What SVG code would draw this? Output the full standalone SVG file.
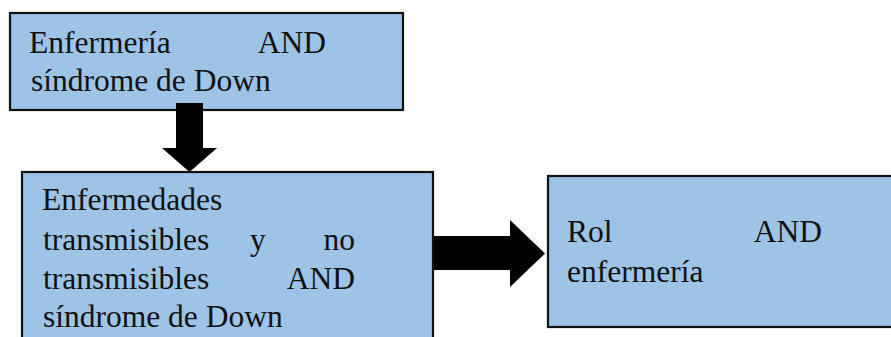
<svg xmlns="http://www.w3.org/2000/svg" width="891" height="337" viewBox="0 0 891 337">
<style>
.box{fill:#9DC3E6;stroke:#111;stroke-width:2.2}
.t{font-family:"Liberation Serif","Times New Roman",serif;font-size:31.5px;fill:#111}
.e{text-anchor:end}
.arr{fill:#000}
</style>
<rect width="891" height="337" fill="#fff"/>
<g id="node1">
<rect class="box" x="10" y="13" width="393" height="97"/>
<text class="t" x="29" y="53">Enfermería</text>
<text class="t e" x="326" y="53">AND</text>
<text class="t" x="31" y="91">síndrome de Down</text>
</g>
<g id="node2">
<rect class="box" x="22" y="172" width="411" height="180"/>
<text class="t" x="42" y="210">Enfermedades</text>
<text class="t" x="43" y="250">transmisibles</text>
<text class="t" x="250" y="250">y</text>
<text class="t e" x="355" y="250">no</text>
<text class="t" x="43" y="289">transmisibles</text>
<text class="t e" x="355" y="289">AND</text>
<text class="t" x="43" y="327">síndrome de Down</text>
</g>
<g id="node3">
<rect class="box" x="548" y="176" width="360" height="151"/>
<text class="t" x="567" y="242">Rol</text>
<text class="t e" x="822" y="242">AND</text>
<text class="t" x="567" y="282">enfermería</text>
</g>
<g id="connectors">
<polygon class="arr" points="176,103 203,103 203,148 217,148 189.5,172 162,148 176,148"/>
<polygon class="arr" points="434,236 510,236 510,220 545,253.5 510,287 510,270 434,270"/>
</g>
</svg>
